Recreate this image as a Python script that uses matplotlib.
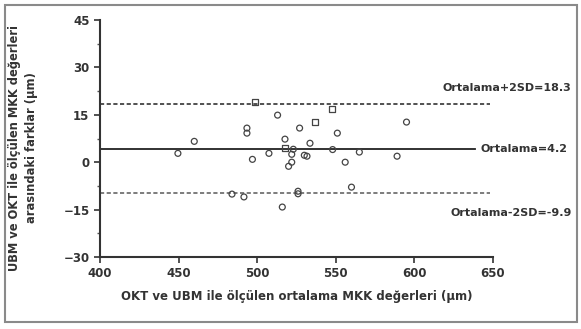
import matplotlib.pyplot as plt
from matplotlib.patches import Rectangle
from matplotlib.ticker import MultipleLocator

plt.rcParams['font.family'] = ['DejaVu Sans']
plt.rcParams['font.weight'] = 'bold'

# ortalama (x) ve fark (y) degerleri
circ_x = [449.6, 460, 493.5, 493.5, 497, 507.5, 517.7, 523, 522, 522, 520,
          531.7, 533.6, 527, 551, 548, 565, 556, 589, 484, 491.6, 516, 526,
          526, 560, 530, 595, 513]
circ_y = [2.8, 6.6, 10.8, 9.2, 0.9, 2.8, 7.3, 4.1, 2.5, 0.0, -1.3,
          1.9, 6.0, 10.8, 9.2, 4.0, 3.2, 0.0, 1.9, -10.1, -11.0, -14.2, -9.2,
          -10.0, -7.9, 2.2, 12.7, 14.9]
sq_x = [498.6, 537, 547.6, 517.7]
sq_y = [19.0, 12.7, 16.8, 4.5]

mean_d = 4.2
upper = 18.3
lower = -9.9

fig = plt.figure(figsize=(5.81, 3.29), dpi=100)
ax = fig.add_axes([0.172, 0.219, 0.6765, 0.72])

fig.patches.append(Rectangle((5/581, 7/329), 572/581, 317/329, transform=fig.transFigure,
                             fill=False, edgecolor='#8a8a8a', linewidth=1.5))

ax.scatter(circ_x, circ_y, marker='o', s=18, facecolors='none', edgecolors='#444444',
           linewidths=0.9, zorder=3, clip_on=False)
ax.scatter(sq_x, sq_y, marker='s', s=18, facecolors='none', edgecolors='#444444',
           linewidths=0.9, zorder=3, clip_on=False)

ax.plot([400, 638.5], [mean_d, mean_d], color='#222222', linewidth=1.3)
ax.plot([400, 648], [upper, upper], color='#333333', linewidth=1.2, linestyle=(0, (2.5, 1.5)))
ax.plot([400, 648], [lower, lower], color='#666666', linewidth=1.2, linestyle=(0, (2.5, 1.5)))

ax.text(642, mean_d, 'Ortalama=4.2', fontsize=8, fontweight='bold', va='center', ha='left',
        color='#333333')
ax.text(700, 23.5, 'Ortalama+2SD=18.3', fontsize=8, fontweight='bold', va='center', ha='right',
        color='#333333')
ax.text(700, -16.2, 'Ortalama-2SD=-9.9', fontsize=8, fontweight='bold', va='center', ha='right',
        color='#333333')
for t in ax.texts:
    t.set_clip_on(False)

ax.set_xlim(400, 650)
ax.set_ylim(-30, 45)
ax.set_xticks([400, 450, 500, 550, 600, 650])
ax.set_yticks([-30, -15, 0, 15, 30, 45])
ax.yaxis.set_minor_locator(MultipleLocator(7.5))
ax.tick_params(axis='both', labelsize=8.5, width=1.2, length=4, color='#333333', labelcolor='#333333')
ax.tick_params(axis='y', which='minor', width=1.0, length=2.5, color='#555555')
for s in ['top', 'right']:
    ax.spines[s].set_visible(False)
for s in ['left', 'bottom']:
    ax.spines[s].set_linewidth(1.5)
    ax.spines[s].set_color('#333333')

ax.set_xlabel('OKT ve UBM ile ölçülen ortalama MKK değerleri (µm)', fontsize=8.5,
              fontweight='bold', color='#333333', labelpad=7)
ax.set_ylabel('UBM ve OKT ile ölçülen MKK değerleri\narasındaki farklar (µm)', fontsize=8.3,
              fontweight='bold', color='#333333', linespacing=1.4)
ax.yaxis.set_label_coords(-0.158, 0.46)

fig.savefig('out.png', dpi=100)
